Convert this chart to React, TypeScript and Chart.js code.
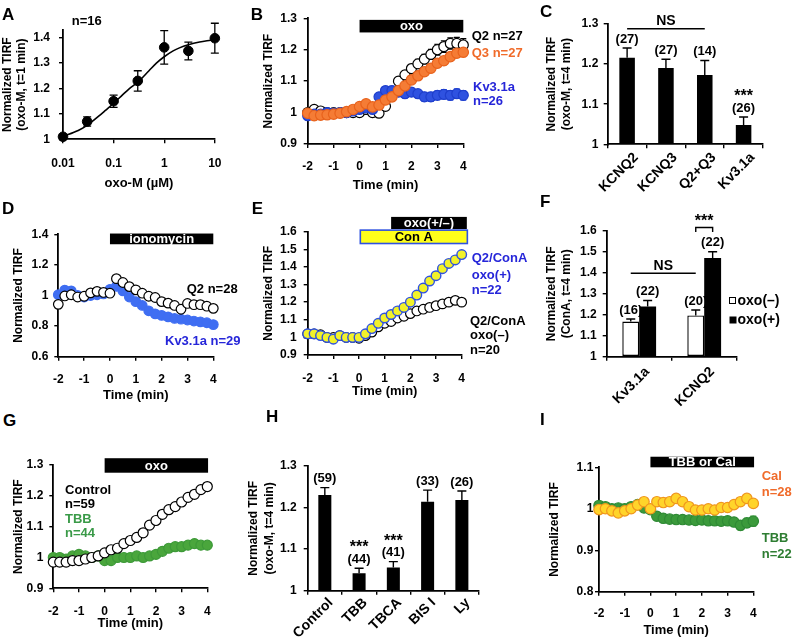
import React, { useEffect, useRef } from "react";
import { Chart, registerables } from "chart.js";

Chart.register(...registerables);

const FONT = "'Liberation Sans', Arial, Helvetica, sans-serif";

// ---------------- data ----------------
const TIME = [-2, -1.75, -1.5, -1.25, -1, -0.75, -0.5, -0.25, 0, 0.25, 0.5, 0.75, 1, 1.25, 1.5, 1.75, 2, 2.25, 2.5, 2.75, 3, 3.25, 3.5, 3.75, 4];
const TIME_TICKS = [-2, -1, 0, 1, 2, 3, 4];

// A: dose response
const A_DOSE = [0.01, 0.03, 0.1, 0.3, 1, 3, 10];
const A_MEAN = [1.01, 1.07, 1.15, 1.23, 1.362, 1.348, 1.398];
const A_ERR = [0.004, 0.018, 0.024, 0.04, 0.066, 0.035, 0.059];
const A_FIT_DOSE = [0.01, 0.02, 0.03, 0.05, 0.07, 0.1, 0.15, 0.2, 0.3, 0.5, 0.7, 1, 1.5, 2, 3, 5, 7, 10];
const A_FIT = [1.012, 1.035, 1.055, 1.09, 1.115, 1.142, 1.175, 1.198, 1.225, 1.27, 1.3, 1.325, 1.348, 1.36, 1.372, 1.383, 1.388, 1.392];
const A_X_TICKS = [0.01, 0.1, 1, 10];
const A_Y_TICKS = [1, 1.1, 1.2, 1.3, 1.4];

// B: oxo time course
const B_Q2 = [1.0, 1.01, 1.005, 1.0, 1.0, 1.0, 1.0, 1.0, 1.0, 1.01, 1.0, 0.998, 1.02, 1.06, 1.1, 1.12, 1.14, 1.155, 1.17, 1.185, 1.2, 1.21, 1.22, 1.22, 1.215];
const B_Q2_ERR = [0, 0, 0, 0, 0, 0, 0, 0, 0, 0, 0, 0, 0.01, 0.01, 0.012, 0.012, 0.013, 0.014, 0.015, 0.016, 0.017, 0.018, 0.018, 0.019, 0.02];
const B_Q3 = [0.998, 0.99, 0.992, 0.993, 0.995, 0.998, 1.003, 1.01, 1.019, 1.028, 1.018, 1.024, 1.04, 1.05, 1.07, 1.085, 1.104, 1.117, 1.13, 1.141, 1.157, 1.165, 1.178, 1.189, 1.192];
const B_Q3_ERR = [0.008, 0.008, 0.008, 0.008, 0.008, 0.008, 0.008, 0.008, 0.008, 0.008, 0.008, 0.008, 0.008, 0.009, 0.009, 0.01, 0.01, 0.01, 0.011, 0.011, 0.012, 0.012, 0.013, 0.013, 0.014];
const B_KV = [0.99, 0.995, 0.995, 1.0, 0.998, 1.0, 1.0, 1.005, 1.01, 1.015, 1.01, 1.05, 1.07, 1.07, 1.065, 1.06, 1.065, 1.06, 1.05, 1.05, 1.055, 1.058, 1.055, 1.06, 1.055];
const B_KV_ERR = [0.012, 0.01, 0.01, 0.01, 0.01, 0.01, 0.01, 0.01, 0.01, 0.01, 0.01, 0.012, 0.012, 0.013, 0.013, 0.013, 0.013, 0.013, 0.014, 0.014, 0.014, 0.015, 0.015, 0.015, 0.015];
const B_Y_TICKS = [0.9, 1, 1.1, 1.2, 1.3];

// C: bars at t=4 min
const C_LABELS = ["KCNQ2", "KCNQ3", "Q2+Q3", "Kv3.1a"];
const C_MEAN = [1.216, 1.19, 1.173, 1.048];
const C_ERR = [0.024, 0.022, 0.036, 0.02];
const C_N = ["(27)", "(27)", "(14)", "(26)"];
const C_SIG = ["", "", "", "***"];
const C_Y_TICKS = [1, 1.1, 1.2, 1.3];

// D: ionomycin
const D_Q2 = [0.942, 0.997, 1.005, 0.99, 0.995, 1.017, 1.027, 1.02, 1.015, 1.11, 1.085, 1.058, 1.037, 1.015, 0.995, 0.987, 0.96, 0.95, 0.935, 0.91, 0.948, 0.94, 0.94, 0.93, 0.916];
const D_KV = [1.005, 1.035, 1.03, 1.0, 0.99, 1.0, 1.005, 1.01, 1.04, 1.06, 1.03, 0.99, 0.96, 0.935, 0.9, 0.88, 0.87, 0.86, 0.85, 0.845, 0.84, 0.833, 0.828, 0.822, 0.81];
const D_Y_TICKS = [0.6, 0.8, 1, 1.2, 1.4];

// E: Con A
const E_PLUS = [1.02, 1.02, 1.01, 1.0, 0.99, 1.01, 1.0, 1.0, 1.0, 1.02, 1.05, 1.08, 1.11, 1.13, 1.15, 1.17, 1.2, 1.24, 1.28, 1.32, 1.35, 1.39, 1.42, 1.44, 1.47];
const E_MINUS = [1.02, 1.02, 1.015, 1.0, 1.0, 1.01, 1.0, 1.0, 0.995, 1.01, 1.03, 1.06, 1.08, 1.09, 1.11, 1.12, 1.135, 1.15, 1.16, 1.17, 1.18, 1.19, 1.2, 1.21, 1.2];
const E_Y_TICKS = [0.9, 1, 1.1, 1.2, 1.3, 1.4, 1.5, 1.6];

// F: Con A bars
const F_LABELS = ["Kv3.1a", "KCNQ2"];
const F_MINUS = [1.168, 1.197];
const F_MINUS_ERR = [0.012, 0.026];
const F_MINUS_N = ["(16)", "(20)"];
const F_PLUS = [1.24, 1.471];
const F_PLUS_ERR = [0.028, 0.03];
const F_PLUS_N = ["(22)", "(22)"];
const F_Y_TICKS = [1, 1.1, 1.2, 1.3, 1.4, 1.5, 1.6];

// G: TBB time course
const G_CTRL = [0.985, 0.985, 0.985, 0.99, 0.99, 0.995, 1.0, 1.005, 1.015, 1.025, 1.03, 1.045, 1.055, 1.065, 1.08, 1.105, 1.12, 1.14, 1.155, 1.165, 1.18, 1.195, 1.205, 1.22, 1.23];
const G_CTRL_ERR = [0.004, 0.004, 0.004, 0.004, 0.004, 0.004, 0.004, 0.004, 0.005, 0.005, 0.005, 0.006, 0.006, 0.006, 0.007, 0.007, 0.008, 0.008, 0.009, 0.009, 0.01, 0.01, 0.011, 0.011, 0.012];
const G_TBB = [1.0, 1.0, 0.995, 1.005, 1.01, 1.005, 1.0, 1.005, 0.99, 0.99, 1.0, 1.0, 1.0, 1.005, 1.0, 1.005, 1.01, 1.02, 1.03, 1.035, 1.035, 1.04, 1.045, 1.04, 1.04];
const G_Y_TICKS = [0.9, 1, 1.1, 1.2, 1.3];

// H: inhibitors bars
const H_LABELS = ["Control", "TBB", "TBCA", "BIS I", "Ly"];
const H_MEAN = [1.23, 1.042, 1.056, 1.214, 1.218];
const H_ERR = [0.018, 0.012, 0.014, 0.028, 0.022];
const H_N = ["(59)", "(44)", "(41)", "(33)", "(26)"];
const H_SIG = ["", "***", "***", "", ""];
const H_Y_TICKS = [1, 1.1, 1.2, 1.3];

// I: TBB or Cal alone
const I_CAL = [0.998, 1.0, 0.995, 0.99, 0.995, 1.0, 1.009, 1.017, 1.0, 1.017, 1.015, 1.017, 1.025, 1.017, 1.005, 0.997, 0.997, 1.0, 0.997, 1.003, 1.003, 1.01, 1.017, 1.025, 1.013];
const I_TBB = [1.008, 1.005, 1.0, 1.002, 1.0, 1.005, 1.01, 1.002, 0.998, 0.982, 0.977, 0.975, 0.974, 0.974, 0.973, 0.972, 0.973, 0.971, 0.971, 0.97, 0.971, 0.968, 0.96, 0.966, 0.97];
const I_TBB_ERR = [0.005, 0.005, 0.005, 0.005, 0.005, 0.005, 0.005, 0.005, 0.006, 0.006, 0.006, 0.006, 0.007, 0.007, 0.007, 0.008, 0.008, 0.008, 0.009, 0.009, 0.01, 0.01, 0.011, 0.011, 0.012];
const I_Y_TICKS = [0.8, 0.9, 1, 1.1];

// ---------------- helpers ----------------
type Box = { x: number; y: number; w: number; h: number };
type Plot = { L: number; T: number; R: number; B: number };

const fmt = (v: any) => String(Math.round(Number(v) * 100) / 100);
const TICK_SIZE = 12;
const TICK_HALF_LH = (TICK_SIZE * 1.2) / 2;
const TICK_FONT = { family: FONT, size: TICK_SIZE, weight: "bold" as const };

function axisStyle(offset = false) {
  return {
    grid: { display: true, drawOnChartArea: false, drawTicks: true, tickLength: 4, color: "#000", lineWidth: 1.4, offset },
    border: { display: true, color: "#000", width: 1.8 },
  };
}

function yLin(box: Box, plot: Plot, min: number, max: number, ticks: number[], labelPad: number, title: string | string[], titleX: number, lineHeight = 1.2) {
  const size = 12;
  return {
    type: "linear",
    position: "left",
    min,
    max,
    afterBuildTicks: (s: any) => { s.ticks = ticks.map((v) => ({ value: v })); },
    afterFit: (s: any) => { s.width = plot.L - box.x; },
    ...axisStyle(),
    ticks: { color: "#000", font: TICK_FONT, padding: labelPad, callback: fmt },
    title: {
      display: true, text: title, color: "#000",
      font: { family: FONT, size, weight: "bold", lineHeight },
      padding: { top: titleX - box.x - (size * lineHeight) / 2, bottom: 0 },
    },
  };
}

function xTime(box: Box, plot: Plot, labelY: number, titleY: number) {
  return {
    type: "linear",
    position: "bottom",
    min: -2,
    max: 4,
    afterBuildTicks: (s: any) => { s.ticks = TIME_TICKS.map((v) => ({ value: v })); },
    afterFit: (s: any) => { s.height = box.y + box.h - plot.B; },
    ...axisStyle(),
    ticks: { color: "#000", font: TICK_FONT, padding: labelY - plot.B - 4 - TICK_HALF_LH, callback: fmt, autoSkip: false, maxRotation: 0 },
    title: {
      display: true, text: "Time (min)", color: "#000",
      font: { family: FONT, size: 13, weight: "bold" },
      padding: { top: 0, bottom: box.y + box.h - titleY - 7.8 },
    },
  };
}

function xCat(box: Box, plot: Plot, labelPad: number, labelOffset: number) {
  return {
    type: "category",
    position: "bottom",
    offset: true,
    afterFit: (s: any) => { s.height = box.y + box.h - plot.B; },
    ...axisStyle(true),
    ticks: {
      color: "#000", font: { family: FONT, size: 14, weight: "bold" }, padding: labelPad, labelOffset,
      minRotation: 45, maxRotation: 45, autoSkip: false,
    },
  };
}

function opts(box: Box, plot: Plot, scales: any) {
  return {
    responsive: false,
    maintainAspectRatio: false,
    animation: false,
    devicePixelRatio: 1,
    events: [],
    layout: { padding: { top: plot.T - box.y, right: box.x + box.w - plot.R, left: 0, bottom: 0 } },
    plugins: { legend: { display: false }, tooltip: { enabled: false }, title: { display: false } },
    scales,
  };
}

function hooks(before?: (c: any) => void, after?: (c: any) => void) {
  return {
    id: "extras",
    beforeDatasetsDraw(c: any) { if (before) before(c); },
    afterDraw(c: any) { if (after) after(c); },
  };
}

function circles(label: string, ys: number[], fill: string, edge: string, r = 4.8, bw = 1.2) {
  return {
    label,
    data: TIME.map((t, i) => ({ x: t, y: ys[i] })),
    pointRadius: r,
    pointBackgroundColor: fill,
    pointBorderColor: edge,
    pointBorderWidth: bw,
    showLine: false,
    clip: false,
  };
}

function txt(ctx: CanvasRenderingContext2D, box: Box, s: string, x: number, y: number, color = "#000", size = 13, align: CanvasTextAlign = "left") {
  ctx.save();
  ctx.fillStyle = color;
  ctx.font = `bold ${size}px ${FONT}`;
  ctx.textAlign = align;
  ctx.textBaseline = "middle";
  ctx.fillText(s, x - box.x, y - box.y);
  ctx.restore();
}

function txtPx(ctx: CanvasRenderingContext2D, s: string, x: number, y: number, size = 13, baseline: CanvasTextBaseline = "middle") {
  ctx.save();
  ctx.fillStyle = "#000";
  ctx.font = `bold ${size}px ${FONT}`;
  ctx.textAlign = "center";
  ctx.textBaseline = baseline;
  ctx.fillText(s, x, y);
  ctx.restore();
}

function scatterErr(chart: any, xs: number[], ys: number[], errs: number[], color: string, cap = 3) {
  const ctx = chart.ctx, sx = chart.scales.x, sy = chart.scales.y;
  ctx.save();
  ctx.strokeStyle = color;
  ctx.lineWidth = 1.3;
  ctx.beginPath();
  xs.forEach((xv, i) => {
    const e = errs[i];
    if (!e) return;
    const px = sx.getPixelForValue(xv);
    const y1 = sy.getPixelForValue(ys[i] + e);
    const y2 = sy.getPixelForValue(ys[i] - e);
    ctx.moveTo(px, y1); ctx.lineTo(px, y2);
    ctx.moveTo(px - cap, y1); ctx.lineTo(px + cap, y1);
    ctx.moveTo(px - cap, y2); ctx.lineTo(px + cap, y2);
  });
  ctx.stroke();
  ctx.restore();
}

function timeBar(chart: any, t0: number, t1: number, v0: number, v1: number, label: string, fill = "#000", color = "#fff", stroke?: string) {
  const ctx = chart.ctx, sx = chart.scales.x, sy = chart.scales.y;
  const x0 = sx.getPixelForValue(t0), x1 = sx.getPixelForValue(t1);
  const yT = sy.getPixelForValue(v1), yB = sy.getPixelForValue(v0);
  ctx.save();
  ctx.fillStyle = fill;
  ctx.fillRect(x0, yT, x1 - x0, yB - yT);
  if (stroke) {
    ctx.strokeStyle = stroke;
    ctx.lineWidth = 1.6;
    ctx.strokeRect(x0, yT, x1 - x0, yB - yT);
  }
  ctx.fillStyle = color;
  ctx.font = `bold 13px ${FONT}`;
  ctx.textAlign = "center";
  ctx.textBaseline = "middle";
  ctx.fillText(label, (x0 + x1) / 2, (yT + yB) / 2 + 0.5);
  ctx.restore();
}

function barErr(chart: any, ds: number, means: number[], errs: number[], cap = 4.5) {
  const meta = chart.getDatasetMeta(ds), sy = chart.scales.y, ctx = chart.ctx;
  ctx.save();
  ctx.strokeStyle = "#000";
  ctx.lineWidth = 1.4;
  ctx.beginPath();
  meta.data.forEach((el: any, i: number) => {
    const yT = sy.getPixelForValue(means[i] + errs[i]);
    const yB = sy.getPixelForValue(means[i]);
    ctx.moveTo(el.x, yB); ctx.lineTo(el.x, yT);
    ctx.moveTo(el.x - cap, yT); ctx.lineTo(el.x + cap, yT);
  });
  ctx.stroke();
  ctx.restore();
}

function barLabels(chart: any, ds: number, means: number[], errs: number[], ns: string[], sig?: string[]) {
  const meta = chart.getDatasetMeta(ds), sy = chart.scales.y, ctx = chart.ctx;
  meta.data.forEach((el: any, i: number) => {
    const yT = sy.getPixelForValue(means[i] + errs[i]);
    txtPx(ctx, ns[i], el.x, yT - 9, 13);
    if (sig && sig[i]) txtPx(ctx, sig[i], el.x, yT - 16, 16, "alphabetic");
  });
}

function hLine(ctx: CanvasRenderingContext2D, x0: number, x1: number, y: number) {
  ctx.save();
  ctx.strokeStyle = "#000";
  ctx.lineWidth = 1.4;
  ctx.beginPath();
  ctx.moveTo(x0, y);
  ctx.lineTo(x1, y);
  ctx.stroke();
  ctx.restore();
}

// colors
const BLUE = "#2f52e0";
const BLUE_EDGE = "#1f3fcc";
const BLUE_TXT = "#2626d9";
const ORANGE = "#f57c35";
const ORANGE_EDGE = "#e8621c";
const ORANGE_TXT = "#f06b2a";
const D_BLUE = "#3f6ef2";
const GREEN = "#4aa63c";
const GREEN_EDGE = "#3d9a38";
const GREEN_TXT = "#3a9a48";
const YELLOW = "#f2f22a";
const CAL_FILL = "#ffd42a";
const CAL_EDGE = "#f0961e";
const I_GREEN = "#3b9a3b";
const I_GREEN_EDGE = "#2f8a35";
const I_GREEN_TXT = "#2e7d32";

// ---------------- panels ----------------
const A_BOX: Box = { x: 0, y: 0, w: 235, h: 195 };
const A_PLOT: Plot = { L: 63, T: 30.1, R: 218, B: 139.3 };
function makeA() {
  return {
    type: "scatter",
    data: {
      datasets: [
        { label: "mean", data: A_DOSE.map((d, i) => ({ x: d, y: A_MEAN[i] })), pointRadius: 4.8, pointBackgroundColor: "#000", pointBorderColor: "#000", showLine: false, clip: false },
        { label: "fit", data: A_FIT_DOSE.map((d, i) => ({ x: d, y: A_FIT[i] })), pointRadius: 0, showLine: true, borderColor: "#000", borderWidth: 1.6, cubicInterpolationMode: "monotone", clip: false },
      ],
    },
    options: opts(A_BOX, A_PLOT, {
      x: {
        type: "logarithmic", position: "bottom", min: 0.01, max: 10,
        afterBuildTicks: (s: any) => { s.ticks = A_X_TICKS.map((v) => ({ value: v })); },
        afterFit: (s: any) => { s.height = A_BOX.y + A_BOX.h - A_PLOT.B; },
        ...axisStyle(),
        ticks: { color: "#000", font: TICK_FONT, padding: 164 - A_PLOT.B - 4 - TICK_HALF_LH, callback: fmt, autoSkip: false, maxRotation: 0 },
        title: { display: true, text: "oxo-M (µM)", color: "#000", font: { family: FONT, size: 13, weight: "bold" }, padding: { top: 0, bottom: A_BOX.h - 183 - 7.8 } },
      },
      y: yLin(A_BOX, A_PLOT, 1, 1.43, A_Y_TICKS, 9, ["Normalized TIRF", "(oxo-M, t=1 min)"], 8, 1.17),
    }),
    plugins: [
      hooks(
        (c) => scatterErr(c, A_DOSE, A_MEAN, A_ERR, "#000", 4),
        (c) => txt(c.ctx, A_BOX, "n=16", 71.7, 21.7),
      ),
    ],
  };
}

const B_BOX: Box = { x: 258, y: 0, w: 274, h: 200 };
const B_PLOT: Plot = { L: 307.7, T: 18.3, R: 463.3, B: 144 };
function makeB() {
  return {
    type: "scatter",
    data: {
      datasets: [
        circles("Q3", B_Q3, ORANGE, ORANGE_EDGE, 5.2),
        circles("Kv3.1a", B_KV, BLUE, BLUE_EDGE, 5),
        circles("Q2", B_Q2, "#fff", "#000", 5),
      ],
    },
    options: opts(B_BOX, B_PLOT, {
      x: xTime(B_BOX, B_PLOT, 167, 185),
      y: yLin(B_BOX, B_PLOT, 0.9, 1.3, B_Y_TICKS, 6.7, "Normalized TIRF", 268.3),
    }),
    plugins: [
      hooks(
        (c) => {
          scatterErr(c, TIME, B_Q2, B_Q2_ERR, "#000");
          scatterErr(c, TIME, B_KV, B_KV_ERR, BLUE);
          scatterErr(c, TIME, B_Q3, B_Q3_ERR, ORANGE);
        },
        (c) => {
          timeBar(c, 0, 4, 1.255, 1.295, "oxo");
          const ctx = c.ctx;
          txt(ctx, B_BOX, "Q2 n=27", 471.7, 36.7);
          txt(ctx, B_BOX, "Q3 n=27", 471.7, 53.3, ORANGE_TXT);
          txt(ctx, B_BOX, "Kv3.1a", 473, 87.3, BLUE_TXT);
          txt(ctx, B_BOX, "n=26", 473, 101.7, BLUE_TXT);
        },
      ),
    ],
  };
}

const C_BOX: Box = { x: 535, y: 0, w: 258, h: 215 };
const C_PLOT: Plot = { L: 607.7, T: 24, R: 763, B: 144.3 };
function makeC() {
  return {
    type: "bar",
    data: {
      labels: C_LABELS,
      datasets: [{ label: "t=4", data: C_MEAN, base: 1, backgroundColor: "#000", borderWidth: 0, categoryPercentage: 0.8, barPercentage: 0.5 }],
    },
    options: opts(C_BOX, C_PLOT, {
      x: xCat(C_BOX, C_PLOT, 1, 9),
      y: yLin(C_BOX, C_PLOT, 1, 1.3, C_Y_TICKS, 5.4, ["Normalized TIRF", "(oxo-M, t=4 min)"], 551.7, 1.25),
    }),
    plugins: [
      hooks(undefined, (c) => {
        barErr(c, 0, C_MEAN, C_ERR);
        barLabels(c, 0, C_MEAN, C_ERR, C_N, C_SIG);
        const sx = c.scales.x, sy = c.scales.y;
        const x0 = sx.getPixelForValue(0), x1 = sx.getPixelForValue(2);
        hLine(c.ctx, x0, x1, sy.getPixelForValue(1.288));
        txtPx(c.ctx, "NS", (x0 + x1) / 2, sy.getPixelForValue(1.306), 14);
      }),
    ],
  };
}

const D_BOX: Box = { x: 0, y: 210, w: 250, h: 195 };
const D_PLOT: Plot = { L: 58.3, T: 234.3, R: 213.3, B: 356.7 };
function makeD() {
  return {
    type: "scatter",
    data: {
      datasets: [
        circles("Q2", D_Q2, "#fff", "#000", 4.8),
        circles("Kv3.1a", D_KV, D_BLUE, D_BLUE, 4.8),
      ],
    },
    options: opts(D_BOX, D_PLOT, {
      x: xTime(D_BOX, D_PLOT, 380, 395),
      y: yLin(D_BOX, D_PLOT, 0.6, 1.4, D_Y_TICKS, 6, "Normalized TIRF", 18.3),
    }),
    plugins: [
      hooks(undefined, (c) => {
        timeBar(c, 0, 4, 1.335, 1.405, "ionomycin");
        txt(c.ctx, D_BOX, "Q2 n=28", 186.7, 289);
        txt(c.ctx, D_BOX, "Kv3.1a n=29", 165, 341, BLUE_TXT);
      }),
    ],
  };
}

const E_BOX: Box = { x: 258, y: 210, w: 274, h: 195 };
const E_PLOT: Plot = { L: 307.7, T: 231.7, R: 461.7, B: 355 };
function makeE() {
  return {
    type: "scatter",
    data: {
      datasets: [
        circles("oxo(+)", E_PLUS, YELLOW, BLUE, 4.8, 1.4),
        circles("oxo(-)", E_MINUS, "#fff", "#000", 4.8),
      ],
    },
    options: opts(E_BOX, E_PLOT, {
      x: xTime(E_BOX, E_PLOT, 378.3, 391.7),
      y: yLin(E_BOX, E_PLOT, 0.9, 1.6, E_Y_TICKS, 7, "Normalized TIRF", 268.3),
    }),
    plugins: [
      hooks(undefined, (c) => {
        timeBar(c, 1.25, 4.2, 1.615, 1.684, "oxo(+/–)");
        timeBar(c, 0.05, 4.22, 1.533, 1.609, "Con A", "#ffff1a", "#000", BLUE);
        const ctx = c.ctx;
        txt(ctx, E_BOX, "Q2/ConA", 471.7, 258.3, BLUE_TXT);
        txt(ctx, E_BOX, "oxo(+)", 471.7, 275, BLUE_TXT);
        txt(ctx, E_BOX, "n=22", 471.7, 290, BLUE_TXT);
        txt(ctx, E_BOX, "Q2/ConA", 470, 321);
        txt(ctx, E_BOX, "oxo(–)", 470, 335.7);
        txt(ctx, E_BOX, "n=20", 470, 350);
      }),
    ],
  };
}

const F_BOX: Box = { x: 535, y: 210, w: 258, h: 215 };
const F_PLOT: Plot = { L: 606.7, T: 231, R: 736.7, B: 356.7 };
function makeF() {
  return {
    type: "bar",
    data: {
      labels: F_LABELS,
      datasets: [
        { label: "oxo(–)", data: F_MINUS, base: 1, backgroundColor: "#fff", borderColor: "#000", borderWidth: 1.4, borderSkipped: false, categoryPercentage: 0.52, barPercentage: 1 },
        { label: "oxo(+)", data: F_PLUS, base: 1, backgroundColor: "#000", borderWidth: 0, categoryPercentage: 0.52, barPercentage: 1 },
      ],
    },
    options: opts(F_BOX, F_PLOT, {
      x: xCat(F_BOX, F_PLOT, 3, 8),
      y: yLin(F_BOX, F_PLOT, 1, 1.6, F_Y_TICKS, 6, ["Normalized TIRF", "(ConA, t=4 min)"], 551.7, 1.25),
    }),
    plugins: [
      hooks(undefined, (c) => {
        barErr(c, 0, F_MINUS, F_MINUS_ERR);
        barErr(c, 1, F_PLUS, F_PLUS_ERR);
        barLabels(c, 0, F_MINUS, F_MINUS_ERR, F_MINUS_N);
        barLabels(c, 1, F_PLUS, F_PLUS_ERR, F_PLUS_N);
        const ctx = c.ctx, sy = c.scales.y;
        const m0 = c.getDatasetMeta(0).data, m1 = c.getDatasetMeta(1).data;
        // NS line
        hLine(ctx, m0[0].x, m0[1].x, sy.getPixelForValue(1.398));
        txtPx(ctx, "NS", (m0[0].x + m0[1].x) / 2, sy.getPixelForValue(1.432), 14);
        // *** bracket
        const yTop = sy.getPixelForValue(1.617), yLeg = sy.getPixelForValue(1.595);
        ctx.save();
        ctx.strokeStyle = "#000";
        ctx.lineWidth = 1.4;
        ctx.beginPath();
        ctx.moveTo(m0[1].x, yLeg); ctx.lineTo(m0[1].x, yTop); ctx.lineTo(m1[1].x, yTop); ctx.lineTo(m1[1].x, yLeg);
        ctx.stroke();
        ctx.restore();
        txtPx(ctx, "***", (m0[1].x + m1[1].x) / 2, yTop - 1, 16, "alphabetic");
        // legend
        ctx.save();
        ctx.fillStyle = "#fff";
        ctx.strokeStyle = "#000";
        ctx.lineWidth = 1;
        ctx.fillRect(729.5 - F_BOX.x, 297.5 - F_BOX.y, 6, 6);
        ctx.strokeRect(729.5 - F_BOX.x, 297.5 - F_BOX.y, 6, 6);
        ctx.fillStyle = "#000";
        ctx.fillRect(729.5 - F_BOX.x, 316.5 - F_BOX.y, 7, 7);
        ctx.restore();
        txt(ctx, F_BOX, "oxo(–)", 737.5, 301, "#000", 14);
        txt(ctx, F_BOX, "oxo(+)", 737.5, 320, "#000", 14);
      }),
    ],
  };
}

const G_BOX: Box = { x: 0, y: 440, w: 250, h: 200 };
const G_PLOT: Plot = { L: 53.3, T: 465, R: 207.3, B: 588.3 };
function makeG() {
  return {
    type: "scatter",
    data: {
      datasets: [
        circles("Control", G_CTRL, "#fff", "#000", 5),
        circles("TBB", G_TBB, GREEN, GREEN_EDGE, 5),
      ],
    },
    options: opts(G_BOX, G_PLOT, {
      x: xTime(G_BOX, G_PLOT, 611.7, 623.3),
      y: yLin(G_BOX, G_PLOT, 0.9, 1.3, G_Y_TICKS, 6, "Normalized TIRF", 18.3),
    }),
    plugins: [
      hooks(
        (c) => scatterErr(c, TIME, G_CTRL, G_CTRL_ERR, "#000"),
        (c) => {
          timeBar(c, 0, 4.03, 1.275, 1.322, "oxo");
          const ctx = c.ctx;
          txt(ctx, G_BOX, "Control", 65, 490);
          txt(ctx, G_BOX, "n=59", 65, 504);
          txt(ctx, G_BOX, "TBB", 65, 519, GREEN_TXT);
          txt(ctx, G_BOX, "n=44", 65, 533.3, GREEN_TXT);
        },
      ),
    ],
  };
}

const H_BOX: Box = { x: 245, y: 440, w: 290, h: 200 };
const H_PLOT: Plot = { L: 307.7, T: 466, R: 479, B: 590.7 };
function makeH() {
  return {
    type: "bar",
    data: {
      labels: H_LABELS,
      datasets: [{ label: "t=4", data: H_MEAN, base: 1, backgroundColor: "#000", borderWidth: 0, categoryPercentage: 0.76, barPercentage: 0.5 }],
    },
    options: opts(H_BOX, H_PLOT, {
      x: xCat(H_BOX, H_PLOT, 0, 6),
      y: yLin(H_BOX, H_PLOT, 1, 1.3, H_Y_TICKS, 7, ["Normalized TIRF", "(oxo-M, t=4 min)"], 253.3, 1.35),
    }),
    plugins: [
      hooks(undefined, (c) => {
        barErr(c, 0, H_MEAN, H_ERR);
        barLabels(c, 0, H_MEAN, H_ERR, H_N, H_SIG);
      }),
    ],
  };
}

const I_BOX: Box = { x: 535, y: 440, w: 258, h: 200 };
const I_PLOT: Plot = { L: 599, T: 467.3, R: 753.3, B: 591.7 };
function makeI() {
  return {
    type: "scatter",
    data: {
      datasets: [
        circles("Cal", I_CAL, CAL_FILL, CAL_EDGE, 5.2),
        circles("TBB", I_TBB, I_GREEN, I_GREEN_EDGE, 5.2),
      ],
    },
    options: opts(I_BOX, I_PLOT, {
      x: xTime(I_BOX, I_PLOT, 613.3, 630),
      y: yLin(I_BOX, I_PLOT, 0.8, 1.1, I_Y_TICKS, 1.7, "Normalized TIRF", 555),
    }),
    plugins: [
      hooks(
        (c) => scatterErr(c, TIME, I_TBB, I_TBB_ERR, I_GREEN),
        (c) => {
          timeBar(c, 0, 4.03, 1.1, 1.1255, "TBB or Cal");
          const ctx = c.ctx;
          txt(ctx, I_BOX, "Cal", 761.7, 476.7, ORANGE_TXT);
          txt(ctx, I_BOX, "n=28", 761.7, 492.7, ORANGE_TXT);
          txt(ctx, I_BOX, "TBB", 761.7, 538.3, I_GREEN_TXT);
          txt(ctx, I_BOX, "n=22", 761.7, 554, I_GREEN_TXT);
        },
      ),
    ],
  };
}

const PANELS: { key: string; box: Box; make: () => any }[] = [
  { key: "A", box: A_BOX, make: makeA },
  { key: "B", box: B_BOX, make: makeB },
  { key: "C", box: C_BOX, make: makeC },
  { key: "D", box: D_BOX, make: makeD },
  { key: "E", box: E_BOX, make: makeE },
  { key: "F", box: F_BOX, make: makeF },
  { key: "G", box: G_BOX, make: makeG },
  { key: "H", box: H_BOX, make: makeH },
  { key: "I", box: I_BOX, make: makeI },
];

const LETTERS = [
  { t: "A", x: 2, y: 14 },
  { t: "B", x: 250.7, y: 14 },
  { t: "C", x: 540, y: 11 },
  { t: "D", x: 2, y: 208 },
  { t: "E", x: 251.7, y: 208 },
  { t: "F", x: 540, y: 201 },
  { t: "G", x: 3, y: 420 },
  { t: "H", x: 266, y: 416 },
  { t: "I", x: 540, y: 419 },
];

function ChartPanel({ box, make }: { box: Box; make: () => any }) {
  const ref = useRef<HTMLCanvasElement | null>(null);
  useEffect(() => {
    if (!ref.current) return;
    const chart = new Chart(ref.current, make());
    return () => chart.destroy();
  }, []);
  return (
    <canvas
      ref={ref}
      width={box.w}
      height={box.h}
      style={{ position: "absolute", left: box.x, top: box.y, width: box.w, height: box.h }}
    />
  );
}

export default function App() {
  return (
    <div style={{ position: "absolute", left: 0, top: 0, width: 793, height: 640, background: "#fff", fontFamily: FONT }}>
      {PANELS.map((p) => (
        <ChartPanel key={p.key} box={p.box} make={p.make} />
      ))}
      {LETTERS.map((l) => (
        <div
          key={l.t}
          style={{ position: "absolute", left: l.x, top: l.y - 8.3, fontSize: 17, lineHeight: "17px", fontWeight: "bold", fontFamily: FONT, color: "#000" }}
        >
          {l.t}
        </div>
      ))}
    </div>
  );
}
